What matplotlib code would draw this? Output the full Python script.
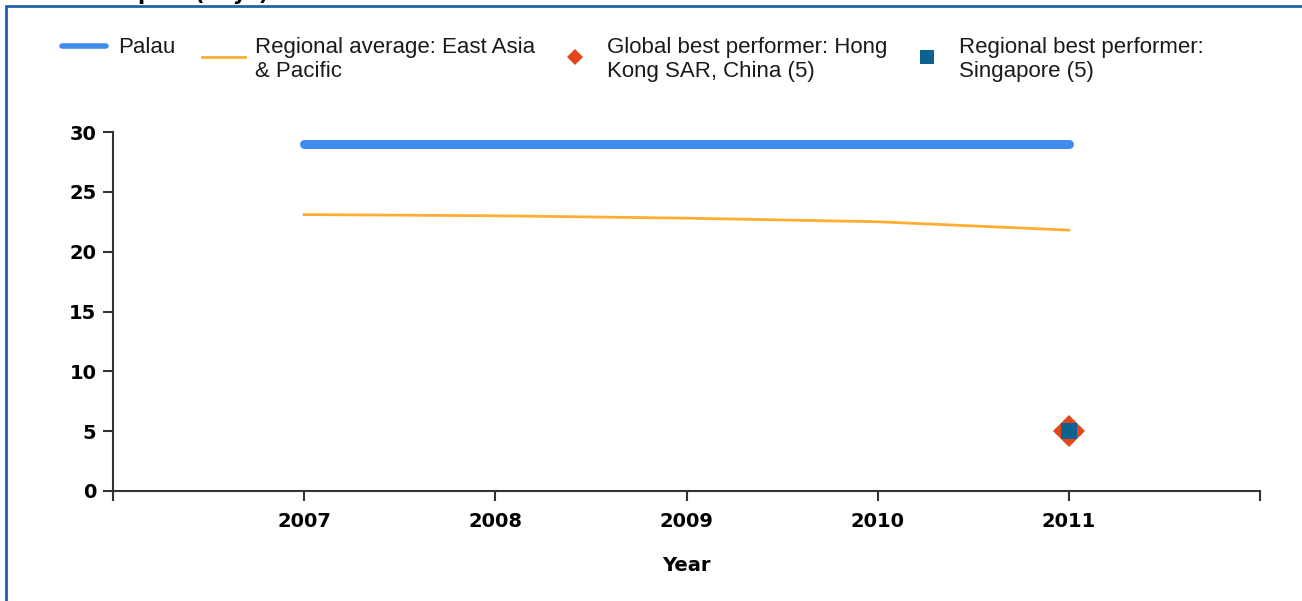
import matplotlib.pyplot as plt
from matplotlib.lines import Line2D
from matplotlib.patches import Rectangle

years = [2007, 2008, 2009, 2010, 2011]
palau = [29, 29, 29, 29, 29]
regional_avg = [23.1, 23.0, 22.8, 22.5, 21.8]
global_best_year = [2011]
global_best = [5]
regional_best_year = [2011]
regional_best = [5]

blue = '#428BEE'
orange = '#FFAD33'
red = '#E2461A'
teal = '#0C6391'

W, H = 1302, 601
fig = plt.figure(figsize=(W / 100, H / 100), dpi=100)

def fx(x):
    return x / W

def fy(y):
    return 1 - y / H

ax = fig.add_axes([fx(113), fy(491), fx(1260) - fx(113), fy(132) - fy(491)])

ax.plot(years, palau, color=blue, lw=6.5, solid_capstyle='round', zorder=3)
ax.plot(years, regional_avg, color=orange, lw=2, zorder=3)
ax.plot(global_best_year, global_best, 'D', color=red, ms=16, mew=0, zorder=4)
ax.plot(regional_best_year, regional_best, 's', color=teal, ms=12, mew=0, zorder=5)

ax.set_xlim(2006, 2012)
ax.set_ylim(0, 30)
ax.set_xticks(range(2006, 2013))
ax.set_xticklabels([''] + [str(y) for y in years] + [''])
ax.set_yticks(range(0, 31, 5))
for s in ['top', 'right']:
    ax.spines[s].set_visible(False)
for s in ['left', 'bottom']:
    ax.spines[s].set_color('#333333')
    ax.spines[s].set_linewidth(1.5)
ax.tick_params(length=7, width=1.5, color='#333333', labelsize=14)
ax.tick_params(axis='x', pad=8)
ax.tick_params(axis='y', pad=5)
for lab in ax.get_xticklabels() + ax.get_yticklabels():
    lab.set_fontweight('bold')
ax.set_xlabel('Year', fontsize=14, fontweight='bold', labelpad=18)

# legend drawn by hand across the top
lf = dict(fontsize=16, family='Liberation Sans', va='top', color='#1a1a1a', linespacing=1.2)
fig.add_artist(Line2D([fx(62), fx(106)], [fy(46), fy(46)], color=blue, lw=4, solid_capstyle='round'))
fig.text(fx(118), fy(37), 'Palau', **lf)
fig.add_artist(Line2D([fx(202), fx(245)], [fy(57), fy(57)], color=orange, lw=2))
fig.text(fx(255), fy(37), 'Regional average: East Asia\n& Pacific', **lf)
fig.add_artist(Line2D([fx(575)], [fy(57)], marker='D', color=red, ms=8, mew=0))
fig.text(fx(607), fy(37), 'Global best performer: Hong\nKong SAR, China (5)', **lf)
fig.add_artist(Line2D([fx(927)], [fy(57)], marker='s', color=teal, ms=10, mew=0))
fig.text(fx(959), fy(37), 'Regional best performer:\nSingapore (5)', **lf)

# cut-off title and frame
fig.text(fx(14), 1.0, 'Time to export (days)', fontsize=15, fontweight='bold', va='baseline')
fig.add_artist(Rectangle((fx(6), -0.1), 1.2, fy(6) + 0.1, transform=fig.transFigure,
                         fill=False, edgecolor='#2462A8', lw=2))

fig.savefig('out.png', dpi=100)
